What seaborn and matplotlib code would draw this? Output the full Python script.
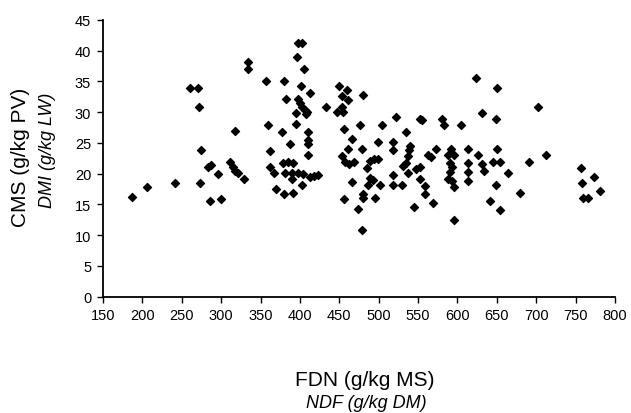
import matplotlib
matplotlib.use("Agg")
import matplotlib.pyplot as plt
import seaborn as sns
import pandas as pd

# NDF (g/kg DM) values
fdn = [187, 206, 242, 260, 271, 272, 273, 275, 283, 287, 286, 296.5, 299.4, 311, 315, 318, 322, 318, 329, 334, 334,
       356.5, 360, 362, 362, 367, 369.6, 380, 391.6, 380, 382, 377, 387, 379, 385, 391.6, 381, 389.5, 398, 389.5, 403,
       395, 395, 397, 400, 403, 406, 408.6, 407.7, 402, 405.5, 396, 398, 403, 413, 410.7, 410.7, 410.7, 410.7, 404,
       413, 418, 423, 433,
       449, 459.5, 454, 461, 480.5, 453, 447.5, 455, 456, 476, 504, 466, 499.5, 461, 478.4, 453, 457, 462, 469,
       489, 494, 499.5, 484.7, 466, 489, 493, 487, 501.7, 456, 480.5, 480.5, 495, 474, 478.4,
       522, 552.4, 534.7, 518.5, 518.5, 540, 539, 537.6, 531, 534.7, 547, 552, 537.6, 518.5, 518.5, 529, 552.4,
       559, 559, 545,
       554.6, 580, 583, 605, 573, 563, 567, 592, 588, 595, 591, 593, 591, 588, 593, 595.6, 568.6, 595.6,
       614, 614, 614, 614,
       623, 631, 626.5, 631, 634, 650, 649, 650, 645.5, 654, 649, 664.5, 641, 654, 679, 691, 702.6, 712.4,
       756.5, 758.5, 760, 766, 773.7, 781]

# DMI (g/kg LW) values
cms = [16.2, 17.9, 18.4, 34.0, 34.0, 30.8, 18.5, 23.9, 21.0, 21.4, 15.5, 19.9, 15.8, 21.9, 21.0, 20.4, 20.1, 26.9, 19.1, 38.2, 37.0,
       35.1, 27.9, 23.6, 21.0, 20.1, 17.5, 16.7, 16.8, 35.0, 32.1, 26.8, 24.8, 21.8, 21.9, 21.8, 20.1, 20.1, 20.1, 19.1, 18.1,
       28.1, 29.9, 32.1, 31.5, 30.8, 30.3, 30.1, 29.7, 34.3, 37.1, 38.9, 41.2, 41.2, 33.1, 26.8, 25.4, 24.8, 23.0, 19.9,
       19.5, 19.6, 19.8, 30.8,
       34.2, 33.6, 32.6, 32.0, 32.8, 30.8, 30.0, 30.0, 27.3, 27.9, 27.9, 25.7, 25.1, 24.0, 24.0, 22.9, 21.9, 21.6, 21.9,
       22.1, 22.3, 22.4, 20.9, 18.7, 19.3, 19.0, 18.2, 18.1, 15.9, 16.7, 16.0, 16.1, 14.2, 10.9,
       29.2, 28.9, 26.8, 25.1, 23.9, 24.5, 23.8, 22.9, 21.2, 21.8, 20.8, 21.0, 20.1, 19.7, 18.1, 18.1, 19.1,
       18.0, 16.7, 14.5,
       28.8, 28.9, 27.9, 27.9, 24.0, 23.0, 22.7, 24.0, 23.0, 23.0, 21.8, 21.1, 20.2, 19.2, 18.8, 17.8, 15.2, 12.4,
       24.0, 21.8, 20.2, 18.8,
       35.6, 29.8, 23.0, 21.5, 20.5, 34.0, 28.9, 24.0, 21.9, 21.9, 18.1, 20.1, 15.5, 14.1, 16.8, 21.9, 30.8, 23.0,
       20.9, 18.4, 16.0, 16.0, 19.4, 17.1]

x_ticks = list(range(150, 801, 50))
y_ticks = list(range(0, 46, 5))

df = pd.DataFrame({"FDN": fdn, "CMS": cms})

sns.set_theme(style="white")
plt.rcParams["font.family"] = ["Liberation Sans", "DejaVu Sans"]

fig = plt.figure(figsize=(6.31, 4.14), dpi=100)
ax = fig.add_axes([103 / 631, 1 - 297.5 / 414, (615 - 103) / 631, (297.5 - 21) / 414])

sns.scatterplot(data=df, x="FDN", y="CMS", marker="D", s=17, color="black",
                edgecolor="black", linewidth=0.9, ax=ax, legend=False, clip_on=False)

ax.set_xlim(150, 800)
ax.set_ylim(0, 45)
ax.set_xticks(x_ticks)
ax.set_yticks(y_ticks)
ax.set_xlabel("")
ax.set_ylabel("")
sns.despine(ax=ax)
for sp in ("left", "bottom"):
    ax.spines[sp].set_color("black")
    ax.spines[sp].set_linewidth(1.3)
ax.tick_params(axis="both", direction="out", length=4.5, width=1, color="black",
               labelsize=10.5, labelcolor="black", pad=4, left=True, bottom=True)

fig.text(21 / 631, 1 - 157 / 414, "CMS (g/kg PV)", rotation=90, ha="center", va="center",
         fontsize=15, color="black")
fig.text(47 / 631, 1 - 150 / 414, "DMI (g/kg LW)", rotation=90, ha="center", va="center",
         fontsize=13, style="italic", color="black")
fig.text(365 / 631, 1 - 381 / 414, "FDN (g/kg MS)", ha="center", va="center",
         fontsize=15, color="black")
fig.text(366 / 631, 1 - 404 / 414, "NDF (g/kg DM)", ha="center", va="center",
         fontsize=13, style="italic", color="black")

fig.savefig("out.png", dpi=100)
